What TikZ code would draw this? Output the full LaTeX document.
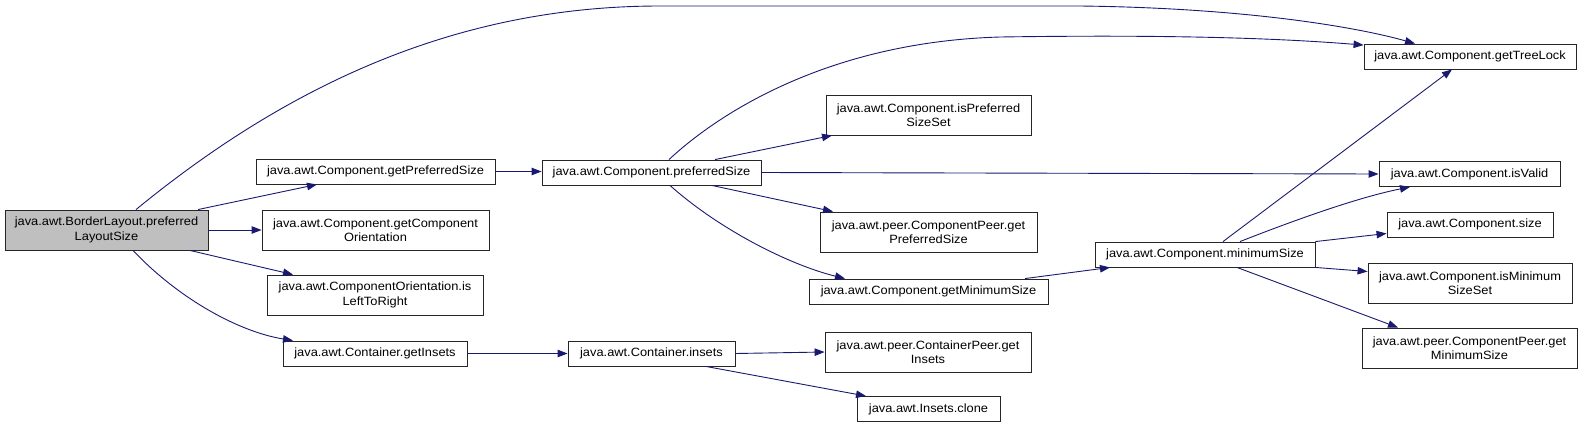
\documentclass[tikz,border=0pt]{standalone}
\usepackage{fontspec}
\setmainfont{Liberation Sans}[FakeStretch=1.07]
\usetikzlibrary{arrows.meta}
\definecolor{midnight}{HTML}{191970}
\definecolor{maingray}{HTML}{BFBFBF}
\tikzset{
  box/.style={draw=black!85, fill=white, line width=0.9pt, inner sep=0pt, align=center,
    font=\fontsize{12}{14.5}\selectfont},
  conn/.style={draw=midnight, line width=0.9pt, -{Triangle[length=10pt,width=7.5pt]}},
}
\begin{document}
\begin{tikzpicture}[x=1pt,y=-1pt]
\useasboundingbox (0,0) rectangle (1587,429);
% nodes
\node[box, fill=maingray, minimum width=203pt, minimum height=40pt] (main) at (106.5,230) {java.awt.BorderLayout.preferred\\LayoutSize};
\node[box, minimum width=239pt, minimum height=25pt] (gps) at (375.5,171.5) {java.awt.Component.getPreferredSize};
\node[box, minimum width=227pt, minimum height=40pt] (gco) at (375.5,230) {java.awt.Component.getComponent\\Orientation};
\node[box, minimum width=216pt, minimum height=40pt] (ltr) at (375,295) {java.awt.ComponentOrientation.is\\LeftToRight};
\node[box, minimum width=184pt, minimum height=25pt] (gin) at (375,353.5) {java.awt.Container.getInsets};
\node[box, minimum width=219pt, minimum height=25pt] (ps) at (651.5,172.5) {java.awt.Component.preferredSize};
\node[box, minimum width=167pt, minimum height=25pt] (ins) at (651.5,353.5) {java.awt.Container.insets};
\node[box, minimum width=205pt, minimum height=40pt] (ips) at (928.5,115) {java.awt.Component.isPreferred\\SizeSet};
\node[box, minimum width=217pt, minimum height=40pt] (cpps) at (928.5,232) {java.awt.peer.ComponentPeer.get\\PreferredSize};
\node[box, minimum width=239pt, minimum height=25pt] (gms) at (928.5,291.5) {java.awt.Component.getMinimumSize};
\node[box, minimum width=206pt, minimum height=40pt] (cpi) at (928,352) {java.awt.peer.ContainerPeer.get\\Insets};
\node[box, minimum width=143pt, minimum height=25pt] (clone) at (928.5,409) {java.awt.Insets.clone};
\node[box, minimum width=220pt, minimum height=25pt] (ms) at (1205,254.5) {java.awt.Component.minimumSize};
\node[box, minimum width=212pt, minimum height=25pt] (gtl) at (1470,56.5) {java.awt.Component.getTreeLock};
\node[box, minimum width=181pt, minimum height=25pt] (iv) at (1469.5,174) {java.awt.Component.isValid};
\node[box, minimum width=166pt, minimum height=25pt] (sz) at (1470,224.5) {java.awt.Component.size};
\node[box, minimum width=204pt, minimum height=40pt] (ims) at (1470,283) {java.awt.Component.isMinimum\\SizeSet};
\node[box, minimum width=215pt, minimum height=40pt] (cpms) at (1469.5,348) {java.awt.peer.ComponentPeer.get\\MinimumSize};
% connectors
\draw[conn] ([xshift=29.5pt]main.north) .. controls (300,75) and (470,6) .. (660,6) -- (1080,6) .. controls (1250,8) and (1360,28) .. ([xshift=-55pt]gtl.north);
\draw[conn] ([xshift=91.5pt]main.north) -- ([xshift=-58.5pt]gps.south);
\draw[conn] (main.east) -- (gco.west);
\draw[conn] ([xshift=83.5pt]main.south) -- ([xshift=-82pt]ltr.north);
\draw[conn] ([xshift=26.5pt]main.south) .. controls (180,300) and (240,332) .. ([xshift=-82pt]gin.north);
\draw[conn] (gps.east) -- (gps.east -| ps.west);
\draw[conn] ([xshift=17.5pt]ps.north) .. controls (720,112) and (830,42) .. (1000,37) .. controls (1200,34) and (1300,40) .. ([yshift=-1.5pt]gtl.north west);
\draw[conn] ([xshift=63.5pt]ps.north) -- ([xshift=-96.5pt]ips.south);
\draw[conn] (ps.east) -- (iv.west);
\draw[conn] ([xshift=60.5pt]ps.south) -- ([xshift=-95.5pt]cpps.north);
\draw[conn] ([xshift=18.5pt]ps.south) .. controls (720,230) and (790,265) .. ([xshift=-83.5pt]gms.north);
\draw[conn] ([xshift=96.5pt]gms.north) -- ([xshift=-95pt]ms.south);
\draw[conn] (gin.east) -- (ins.west);
\draw[conn] (ins.east) -- (cpi.west);
\draw[conn] ([xshift=54.5pt]ins.south) -- ([xshift=-62.5pt]clone.north);
\draw[conn] ([xshift=18pt]ms.north) -- ([xshift=-18pt]gtl.south);
\draw[conn] ([xshift=35pt]ms.north) .. controls (1300,218) and (1360,197) .. ([xshift=-59.5pt]iv.south);
\draw[conn] (ms.north east) -- ([yshift=-9pt]sz.west);
\draw[conn] (ms.south east) -- ([yshift=11.5pt]ims.west);
\draw[conn] ([xshift=32pt]ms.south) -- ([xshift=-71.5pt]cpms.north);
\end{tikzpicture}
\end{document}
